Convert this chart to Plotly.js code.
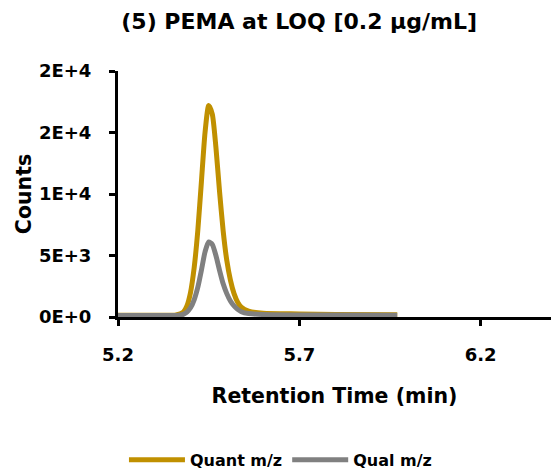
<!DOCTYPE html>
<html>
<head>
<meta charset="utf-8">
<script src="https://cdn.plot.ly/plotly-3.0.1.min.js"></script>
<style>html,body{margin:0;padding:0;background:#fff;}#chart{width:551px;height:474px;}</style>
</head>
<body>
<div id="chart"></div>
<script>
const time = [5.20, 5.30, 5.36, 5.38, 5.39, 5.40, 5.41, 5.42, 5.43, 5.44, 5.45, 5.46, 5.47, 5.48, 5.49, 5.50, 5.51, 5.52, 5.53, 5.54, 5.56, 5.60, 5.70, 5.80, 5.97];
const quant = [150, 150, 170, 400, 900, 2000, 4000, 7000, 11000, 15000, 17200, 16500, 13800, 10200, 7000, 4600, 3000, 1900, 1200, 800, 480, 300, 250, 200, 180];
const qual = [120, 120, 130, 220, 400, 750, 1400, 2400, 3800, 5300, 6100, 5900, 5000, 3800, 2700, 1900, 1300, 900, 620, 430, 280, 200, 170, 160, 150];
const yTickVals = [0, 5000, 10000, 15000, 20000];
const yTickText = ["0E+0", "5E+3", "1E+4", "2E+4", "2E+4"];
const xTickVals = [5.2, 5.7, 6.2];
const xTickText = ["5.2", "5.7", "6.2"];

const font = "'DejaVu Sans', sans-serif";
const traces = [
  {x: time, y: quant, name: "<b>Quant m/z</b>", mode: "lines", line: {color: "#C09000", width: 5, shape: "spline", smoothing: 0.6}},
  {x: time, y: qual, name: "<b>Qual m/z</b>", mode: "lines", line: {color: "#808080", width: 5, shape: "spline", smoothing: 0.6}}
];
const layout = {
  width: 551, height: 474,
  margin: {l: 118, r: 0, t: 71, b: 157},
  paper_bgcolor: "#fff", plot_bgcolor: "#fff",
  font: {family: font, color: "#000"},
  title: {text: "<b>(5) PEMA at LOQ [0.2 µg/mL]</b>", font: {size: 22, family: font, color: "#000"}, x: 0.543, xanchor: "center", y: 0.955, yanchor: "middle"},
  xaxis: {
    range: [5.2, 6.394], tickvals: xTickVals, ticktext: xTickText,
    tickfont: {size: 18, family: font, color: "#000", weight: "bold"}, ticks: "outside", ticklen: 6, tickwidth: 3, tickcolor: "#000",
    ticklabelstandoff: 13,
    showline: true, linecolor: "#000", linewidth: 3, showgrid: false, zeroline: false,
    title: {text: "<b>Retention Time (min)</b>", font: {size: 20.5, family: font, color: "#000"}, standoff: 26}
  },
  yaxis: {
    range: [0, 20000], tickvals: yTickVals, ticktext: yTickText,
    tickfont: {size: 18, family: font, color: "#000", weight: "bold"}, ticks: "outside", ticklen: 6, tickwidth: 3, tickcolor: "#000",
    ticklabelstandoff: 14,
    showline: true, linecolor: "#000", linewidth: 3, showgrid: false, zeroline: false,
    title: {text: "<b>Counts</b>", font: {size: 20.5, family: font, color: "#000"}, standoff: 2}
  },
  showlegend: true,
  legend: {orientation: "h", xref: "container", yref: "container", x: 0.509, xanchor: "center", y: 0.03, yanchor: "middle", font: {size: 16, family: font, color: "#000"}, itemwidth: 56, tracegroupgap: 0}
};
Plotly.newPlot("chart", traces, layout, {displayModeBar: false, staticPlot: true});
</script>
</body>
</html>
